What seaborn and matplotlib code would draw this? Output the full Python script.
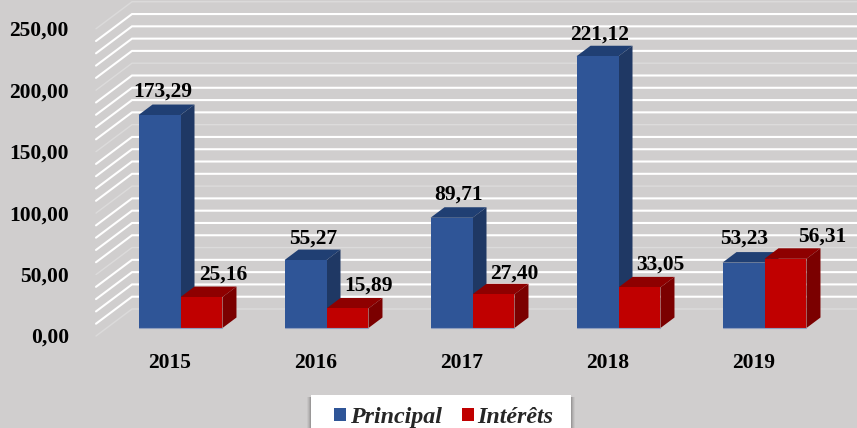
import matplotlib
matplotlib.use("Agg")
import matplotlib.pyplot as plt
from matplotlib.patches import Polygon, Rectangle
from matplotlib.transforms import ScaledTranslation
import numpy as np
import pandas as pd
import seaborn as sns

years = ["2015", "2016", "2017", "2018", "2019"]
principal = [173.29, 55.27, 89.71, 221.12, 53.23]
interets = [25.16, 15.89, 27.40, 33.05, 56.31]
series_names = ["Principal", "Intérêts"]
y_ticks = [0, 50, 100, 150, 200, 250]
grid_values = list(range(0, 260, 10))

W, H = 857, 428
PX_PER_UNIT = 1.229    # pixels par unité sur l'axe y
PX_PER_CAT = 146       # pixels entre deux groupes
CENTER0 = 180.5        # position px du premier groupe
BG = "#D0CECE"
colors = {"Principal": "#2F5597", "Intérêts": "#C00000"}
side_colors = {"Principal": "#1F3864", "Intérêts": "#7B0000"}
top_colors = {"Principal": "#203F73", "Intérêts": "#8E0000"}

# décalage des étiquettes (px) par rapport au haut de la face avant
label_dx = {"Principal": [3, 8, 7, 2, 1], "Intérêts": [22, 21, 21, 21, 37]}
label_dy = {"Principal": [23, 21, 23, 22, 24], "Intérêts": [22, 23, 21, 23, 22]}

df = pd.DataFrame({
    "annee": years * 2,
    "serie": [series_names[0]] * 5 + [series_names[1]] * 5,
    "valeur": principal + interets,
})

sns.set_theme(style="white")
plt.rcParams["font.family"] = ["Liberation Serif", "DejaVu Serif"]

fig = plt.figure(figsize=(W / 100, H / 100), dpi=100, facecolor=BG)
ax = fig.add_axes([96 / W, (H - 328) / H, (W - 96) / W, 250 * PX_PER_UNIT / H])
ax.patch.set_alpha(0)

sns.barplot(data=df, x="annee", y="valeur", hue="serie", order=years,
            hue_order=series_names, palette=colors, width=0.575, gap=0,
            saturation=1, dodge=True, ax=ax, zorder=3, linewidth=0)

ax.set_xlim((96 - CENTER0) / PX_PER_CAT, (W - CENTER0) / PX_PER_CAT)
ax.set_ylim(0, 250)
sns.despine(ax=ax, left=True, bottom=True)
ax.set_xlabel("")
ax.set_ylabel("")


def xpx(px):
    return (px - CENTER0) / PX_PER_CAT


# mur du fond : diagonale puis ligne horizontale
front_dy = -8 / PX_PER_UNIT
back_dy = 19 / PX_PER_UNIT
for v in grid_values:
    if v % 50 == 0:
        c, lw = "#DCDBDB", 1.0
    else:
        c, lw = "white", 1.5
    ax.plot([xpx(96), xpx(132), xpx(W)], [v + front_dy, v + back_dy, v + back_dy],
            color=c, lw=lw, clip_on=False, zorder=1, solid_joinstyle="miter")

# faces 3D des barres
dx = 14 / PX_PER_CAT
dy = 10.5 / PX_PER_UNIT
for k, (name, cont) in enumerate(zip(series_names, ax.containers)):
    for i, bar in enumerate(cont):
        x0 = bar.get_x()
        x1 = x0 + bar.get_width()
        h = bar.get_height()
        ax.add_patch(Polygon([(x0, h), (x1, h), (x1 + dx, h + dy), (x0 + dx, h + dy)],
                             closed=True, fc=top_colors[name], ec="none", zorder=2 + k * 0.5,
                             clip_on=False))
        ax.add_patch(Polygon([(x1, 0), (x1, h), (x1 + dx, h + dy), (x1 + dx, dy)],
                             closed=True, fc=side_colors[name], ec="none", zorder=2 + k * 0.5,
                             clip_on=False))
        ax.plot([x0, x1], [0, 0], color="#8E9DBD", lw=0.8, clip_on=False, zorder=3.5)
        ax.annotate(f"{h:.2f}".replace(".", ","), (x0 + bar.get_width() / 2, h),
                    xytext=(label_dx[name][i] * 0.72, label_dy[name][i] * 0.72),
                    textcoords="offset points", ha="center", va="center",
                    fontsize=15.5, fontweight="bold", color="black", zorder=5,
                    annotation_clip=False)

# axes
ax.set_yticks(y_ticks)
ax.set_yticklabels([f"{v:.2f}".replace(".", ",") for v in y_ticks])
ax.tick_params(axis="both", length=0, labelsize=15.5, colors="black")
ax.tick_params(axis="y", pad=27 * 0.72)
ax.tick_params(axis="x", pad=25 * 0.72)
for t in ax.get_yticklabels():
    t.set_fontweight("bold")
    t.set_transform(t.get_transform() + ScaledTranslation(0, -7.5 / 100, fig.dpi_scale_trans))
for t in ax.get_xticklabels():
    t.set_fontweight("bold")
    t.set_transform(t.get_transform() + ScaledTranslation(-10.5 / 100, 0, fig.dpi_scale_trans))

# cadre blanc de la légende, ombre douce sur les côtés seulement
for grow, alpha in [(4, 0.04), (3, 0.06), (2, 0.08), (1, 0.10)]:
    fig.add_artist(Rectangle(((311 - grow) / W, 0), (260 + 2 * grow) / W, 31 / H,
                             transform=fig.transFigure, fc="black", ec="none", alpha=alpha))
fig.add_artist(Rectangle((311 / W, 0), 260 / W, 33 / H, transform=fig.transFigure,
                         fc="white", ec="none"))

handles, labels = ax.get_legend_handles_labels()
leg = ax.legend(handles, labels, loc="center left", bbox_to_anchor=(334 / W, 10.5 / H),
                bbox_transform=fig.transFigure, ncol=2, frameon=False, borderaxespad=0,
                prop={"family": "Liberation Serif", "weight": "bold", "style": "italic", "size": 17.3},
                handlelength=0.5, handleheight=0.5, handletextpad=0.15, columnspacing=0.85,
                borderpad=0, title=None)
leg.set_zorder(10)
leg.remove()
fig.add_artist(leg)

fig.savefig("out.png", dpi=100, facecolor=BG)
